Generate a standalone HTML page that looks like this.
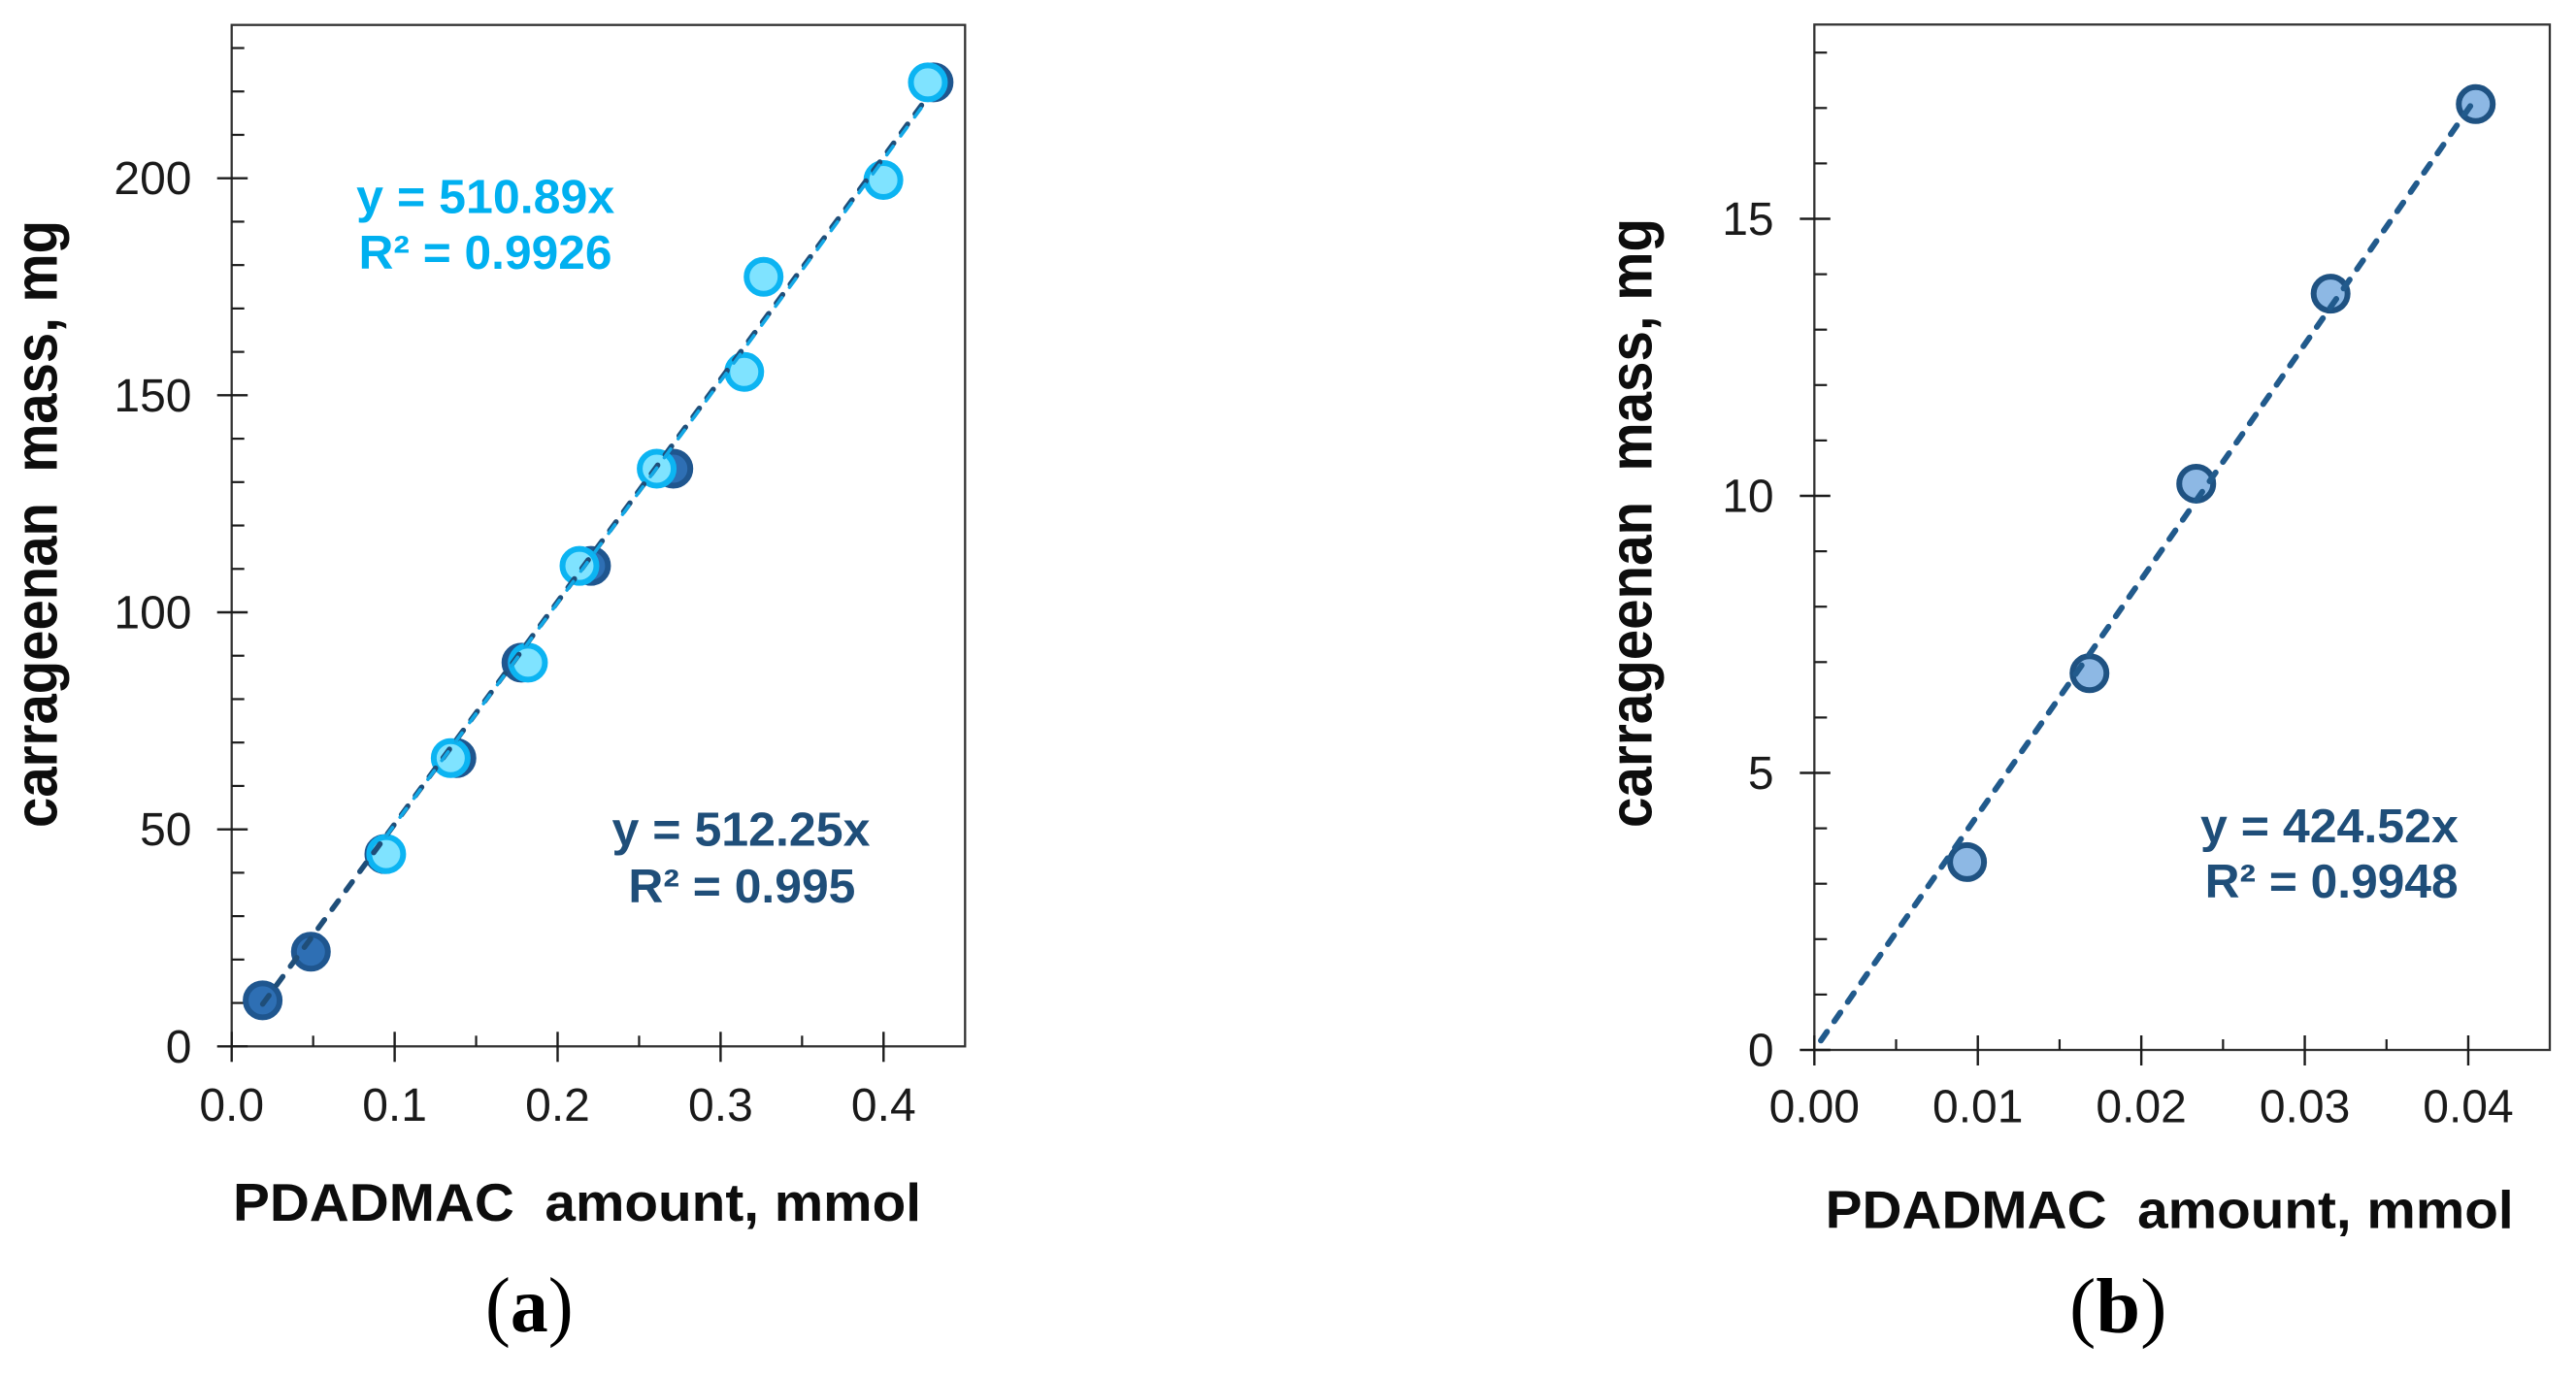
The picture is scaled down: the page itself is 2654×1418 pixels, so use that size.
<!DOCTYPE html>
<html lang="en">
<head>
<meta charset="utf-8">
<title>Carrageenan mass vs PDADMAC amount</title>
<style>
html,body{margin:0;padding:0;background:#fff;}
svg{display:block;}
text{font-family:"Liberation Sans",Arial,sans-serif;}
.tick-label{font-size:48px;fill:#1a1a1a;}
.axis-title{font-size:55px;font-weight:bold;fill:#0d0d0d;}
.y-title{font-size:55px;font-weight:bold;fill:#0d0d0d;}
.eq{font-size:49px;font-weight:bold;}
.caption{font-family:"Liberation Serif",serif;font-size:80px;fill:#000;}
</style>
</head>
<body>
<svg id="figure" xmlns="http://www.w3.org/2000/svg" width="2654" height="1418" viewBox="0 0 2654 1418">
  <rect x="0" y="0" width="2654" height="1418" fill="#ffffff"/>
  <g id="panel-a"></g>
  <g id="panel-b"></g>

  <text class="axis-title" x="240" y="1258" textLength="709" lengthAdjust="spacingAndGlyphs">PDADMAC&#160; amount, mmol</text>
  <text class="y-title" transform="translate(58.3,853) rotate(-90) scale(1,1.13)" x="0" y="0" textLength="626" lengthAdjust="spacingAndGlyphs">carrageenan&#160; mass, mg</text>
  <text class="eq" x="367.2" y="219.5" fill="#00b0f0" textLength="266" lengthAdjust="spacingAndGlyphs">y = 510.89x</text>
  <text class="eq" x="369.5" y="277" fill="#00b0f0" textLength="261" lengthAdjust="spacingAndGlyphs">R² = 0.9926</text>
  <text class="eq" x="630.5" y="871.7" fill="#1f4e79" textLength="266" lengthAdjust="spacingAndGlyphs">y = 512.25x</text>
  <text class="eq" x="647.4" y="930" fill="#1f4e79" textLength="234" lengthAdjust="spacingAndGlyphs">R² = 0.995</text>
  <text class="caption" x="500" y="1372" textLength="90.6" lengthAdjust="spacingAndGlyphs">(<tspan font-weight="bold">a</tspan>)</text>

  <text class="axis-title" x="1880.7" y="1265.5" textLength="709" lengthAdjust="spacingAndGlyphs">PDADMAC&#160; amount, mmol</text>
  <text class="y-title" transform="translate(1701.5,853) rotate(-90) scale(1,1.13)" x="0" y="0" textLength="628" lengthAdjust="spacingAndGlyphs">carrageenan&#160; mass, mg</text>
  <text class="eq" x="2267" y="868" fill="#1f4e79" textLength="265.8" lengthAdjust="spacingAndGlyphs">y = 424.52x</text>
  <text class="eq" x="2271.6" y="925" fill="#1f4e79" textLength="261" lengthAdjust="spacingAndGlyphs">R² = 0.9948</text>
  <text class="caption" x="2132" y="1373" textLength="100.5" lengthAdjust="spacingAndGlyphs">(<tspan font-weight="bold">b</tspan>)</text>
</svg>
<script>
// Panel (a) data
const aDarkX = [0.019, 0.0486, 0.0937, 0.1379, 0.1778, 0.2205, 0.2710, 0.4307];
const aDarkY = [10.6, 21.8, 44.3, 66.4, 88.4, 110.7, 133.1, 222.1];
const aLightX = [0.0948, 0.1344, 0.1818, 0.2134, 0.2608, 0.3145, 0.3264, 0.3999, 0.4272];
const aLightY = [44.3, 66.4, 88.4, 110.7, 133.1, 155.4, 177.3, 199.6, 222.1];
const aDarkSlope = 512.25;
const aLightSlope = 510.89;
const aDarkFitRange = [0.019, 0.427];
const aLightFitRange = [0.0948, 0.4272];
const aXTickValues = [0, 0.1, 0.2, 0.3, 0.4];
const aXTickLabels = ['0.0', '0.1', '0.2', '0.3', '0.4'];
const aXMinorValues = [0.05, 0.15, 0.25, 0.35];
const aYTickValues = [0, 50, 100, 150, 200];
const aYTickLabels = ['0', '50', '100', '150', '200'];
const aYMinorValues = [10, 20, 30, 40, 60, 70, 80, 90, 110, 120, 130, 140, 160, 170, 180, 190, 210, 220, 230];

// Panel (b) data
const bX = [0.00934, 0.01683, 0.02336, 0.03158, 0.04046];
const bY = [3.39, 6.80, 10.22, 13.65, 17.07];
const bSlope = 424.52;
const bFitRange = [0.0004, 0.0403];
const bXTickValues = [0, 0.01, 0.02, 0.03, 0.04];
const bXTickLabels = ['0.00', '0.01', '0.02', '0.03', '0.04'];
const bXMinorValues = [0.005, 0.015, 0.025, 0.035];
const bYTickValues = [0, 5, 10, 15];
const bYTickLabels = ['0', '5', '10', '15'];
const bYMinorValues = [1, 2, 3, 4, 6, 7, 8, 9, 11, 12, 13, 14, 16, 17, 18];

const NS = 'http://www.w3.org/2000/svg';
const AXIS = '#1c1c1c';

function mk(parent, tag, attrs) {
  const el = document.createElementNS(NS, tag);
  for (const k in attrs) el.setAttribute(k, attrs[k]);
  parent.appendChild(el);
  return el;
}

function drawAxes(g, cfg) {
  const sx = cfg.sx, sy = cfg.sy;
  const frame = mk(g, 'rect', {x: cfg.left, y: cfg.top, width: cfg.right - cfg.left, height: cfg.bottom - cfg.top, fill: 'none', stroke: '#333', 'stroke-width': 2.3});
  
  

  cfg.yMinor.forEach(function (v) {
    const t = mk(g, 'line', {x1: cfg.left, x2: cfg.left + 13, y1: sy(v), y2: sy(v), stroke: AXIS, 'stroke-width': 2.2});
    
    
  });
  cfg.yTicks.forEach(function (v, i) {
    const t = mk(g, 'line', {x1: cfg.left - 15, x2: cfg.left + 16.5, y1: sy(v), y2: sy(v), stroke: AXIS, 'stroke-width': 2.4});
    
    
    const l = mk(g, 'text', {x: cfg.yLabelX, y: sy(v) + 16.5, 'text-anchor': 'end', 'class': 'tick-label'});
    
    
    l.textContent = cfg.yLabels[i];
  });
  cfg.xMinor.forEach(function (v) {
    const t = mk(g, 'line', {x1: sx(v), x2: sx(v), y1: cfg.bottom - 11, y2: cfg.bottom, stroke: AXIS, 'stroke-width': 2.2});
    
    
  });
  cfg.xTicks.forEach(function (v, i) {
    const t = mk(g, 'line', {x1: sx(v), x2: sx(v), y1: cfg.bottom - 15, y2: cfg.bottom + 16, stroke: AXIS, 'stroke-width': 2.4});
    
    
    const l = mk(g, 'text', {x: sx(v), y: cfg.xLabelY, 'text-anchor': 'middle', 'class': 'tick-label'});
    
    
    l.textContent = cfg.xLabels[i];
  });
}

function drawPoints(g, xs, ys, sx, sy, fill, stroke) {
  xs.forEach(function (v, i) {
    const c = mk(g, 'circle', {cx: sx(v), cy: sy(ys[i]), r: 17.5, fill: fill, stroke: stroke, 'stroke-width': 6});
    
    
  });
}

function drawFit(g, slope, range, sx, sy, color, width) {
  const f = mk(g, 'line', {
    x1: sx(range[0]), y1: sy(slope * range[0]),
    x2: sx(range[1]), y2: sy(slope * range[1]),
    stroke: color, 'stroke-width': width, 'stroke-dasharray': '11 13.2', 'stroke-linecap': 'round'
  });
  
  
}

// Panel (a)
const aSx = function (v) { return 238.7 + 1679 * v; };
const aSy = function (v) { return 1078.3 - 4.473 * v; };
const gA = document.getElementById('panel-a');
drawAxes(gA, {
  left: 238.7, right: 994.3, top: 25.7, bottom: 1078.3, sx: aSx, sy: aSy,
  xTicks: aXTickValues, xLabels: aXTickLabels, xMinor: aXMinorValues,
  yTicks: aYTickValues, yLabels: aYTickLabels, yMinor: aYMinorValues,
  yLabelX: 197.5, xLabelY: 1155
});
drawPoints(gA, aDarkX, aDarkY, aSx, aSy, '#2e6fb4', '#1f568f');
drawPoints(gA, aLightX, aLightY, aSx, aSy, '#7fe3ff', '#0cb4f2');
drawFit(gA, aDarkSlope, aDarkFitRange, aSx, aSy, '#1f4e79', 5.5);
drawFit(gA, aLightSlope, aLightFitRange, aSx, aSy, '#12a8e6', 3.5);

// Panel (b)
const bSx = function (v) { return 1869.3 + 16842 * v; };
const bSy = function (v) { return 1082 - 57.1 * v; };
const gB = document.getElementById('panel-b');
drawAxes(gB, {
  left: 1869.3, right: 2627, top: 25.3, bottom: 1082, sx: bSx, sy: bSy,
  xTicks: bXTickValues, xLabels: bXTickLabels, xMinor: bXMinorValues,
  yTicks: bYTickValues, yLabels: bYTickLabels, yMinor: bYMinorValues,
  yLabelX: 1827.6, xLabelY: 1156.5
});
drawPoints(gB, bX, bY, bSx, bSy, '#8db8e4', '#1f5282');
drawFit(gB, bSlope, bFitRange, bSx, bSy, '#215a8c', 6);
</script>
</body>
</html>
